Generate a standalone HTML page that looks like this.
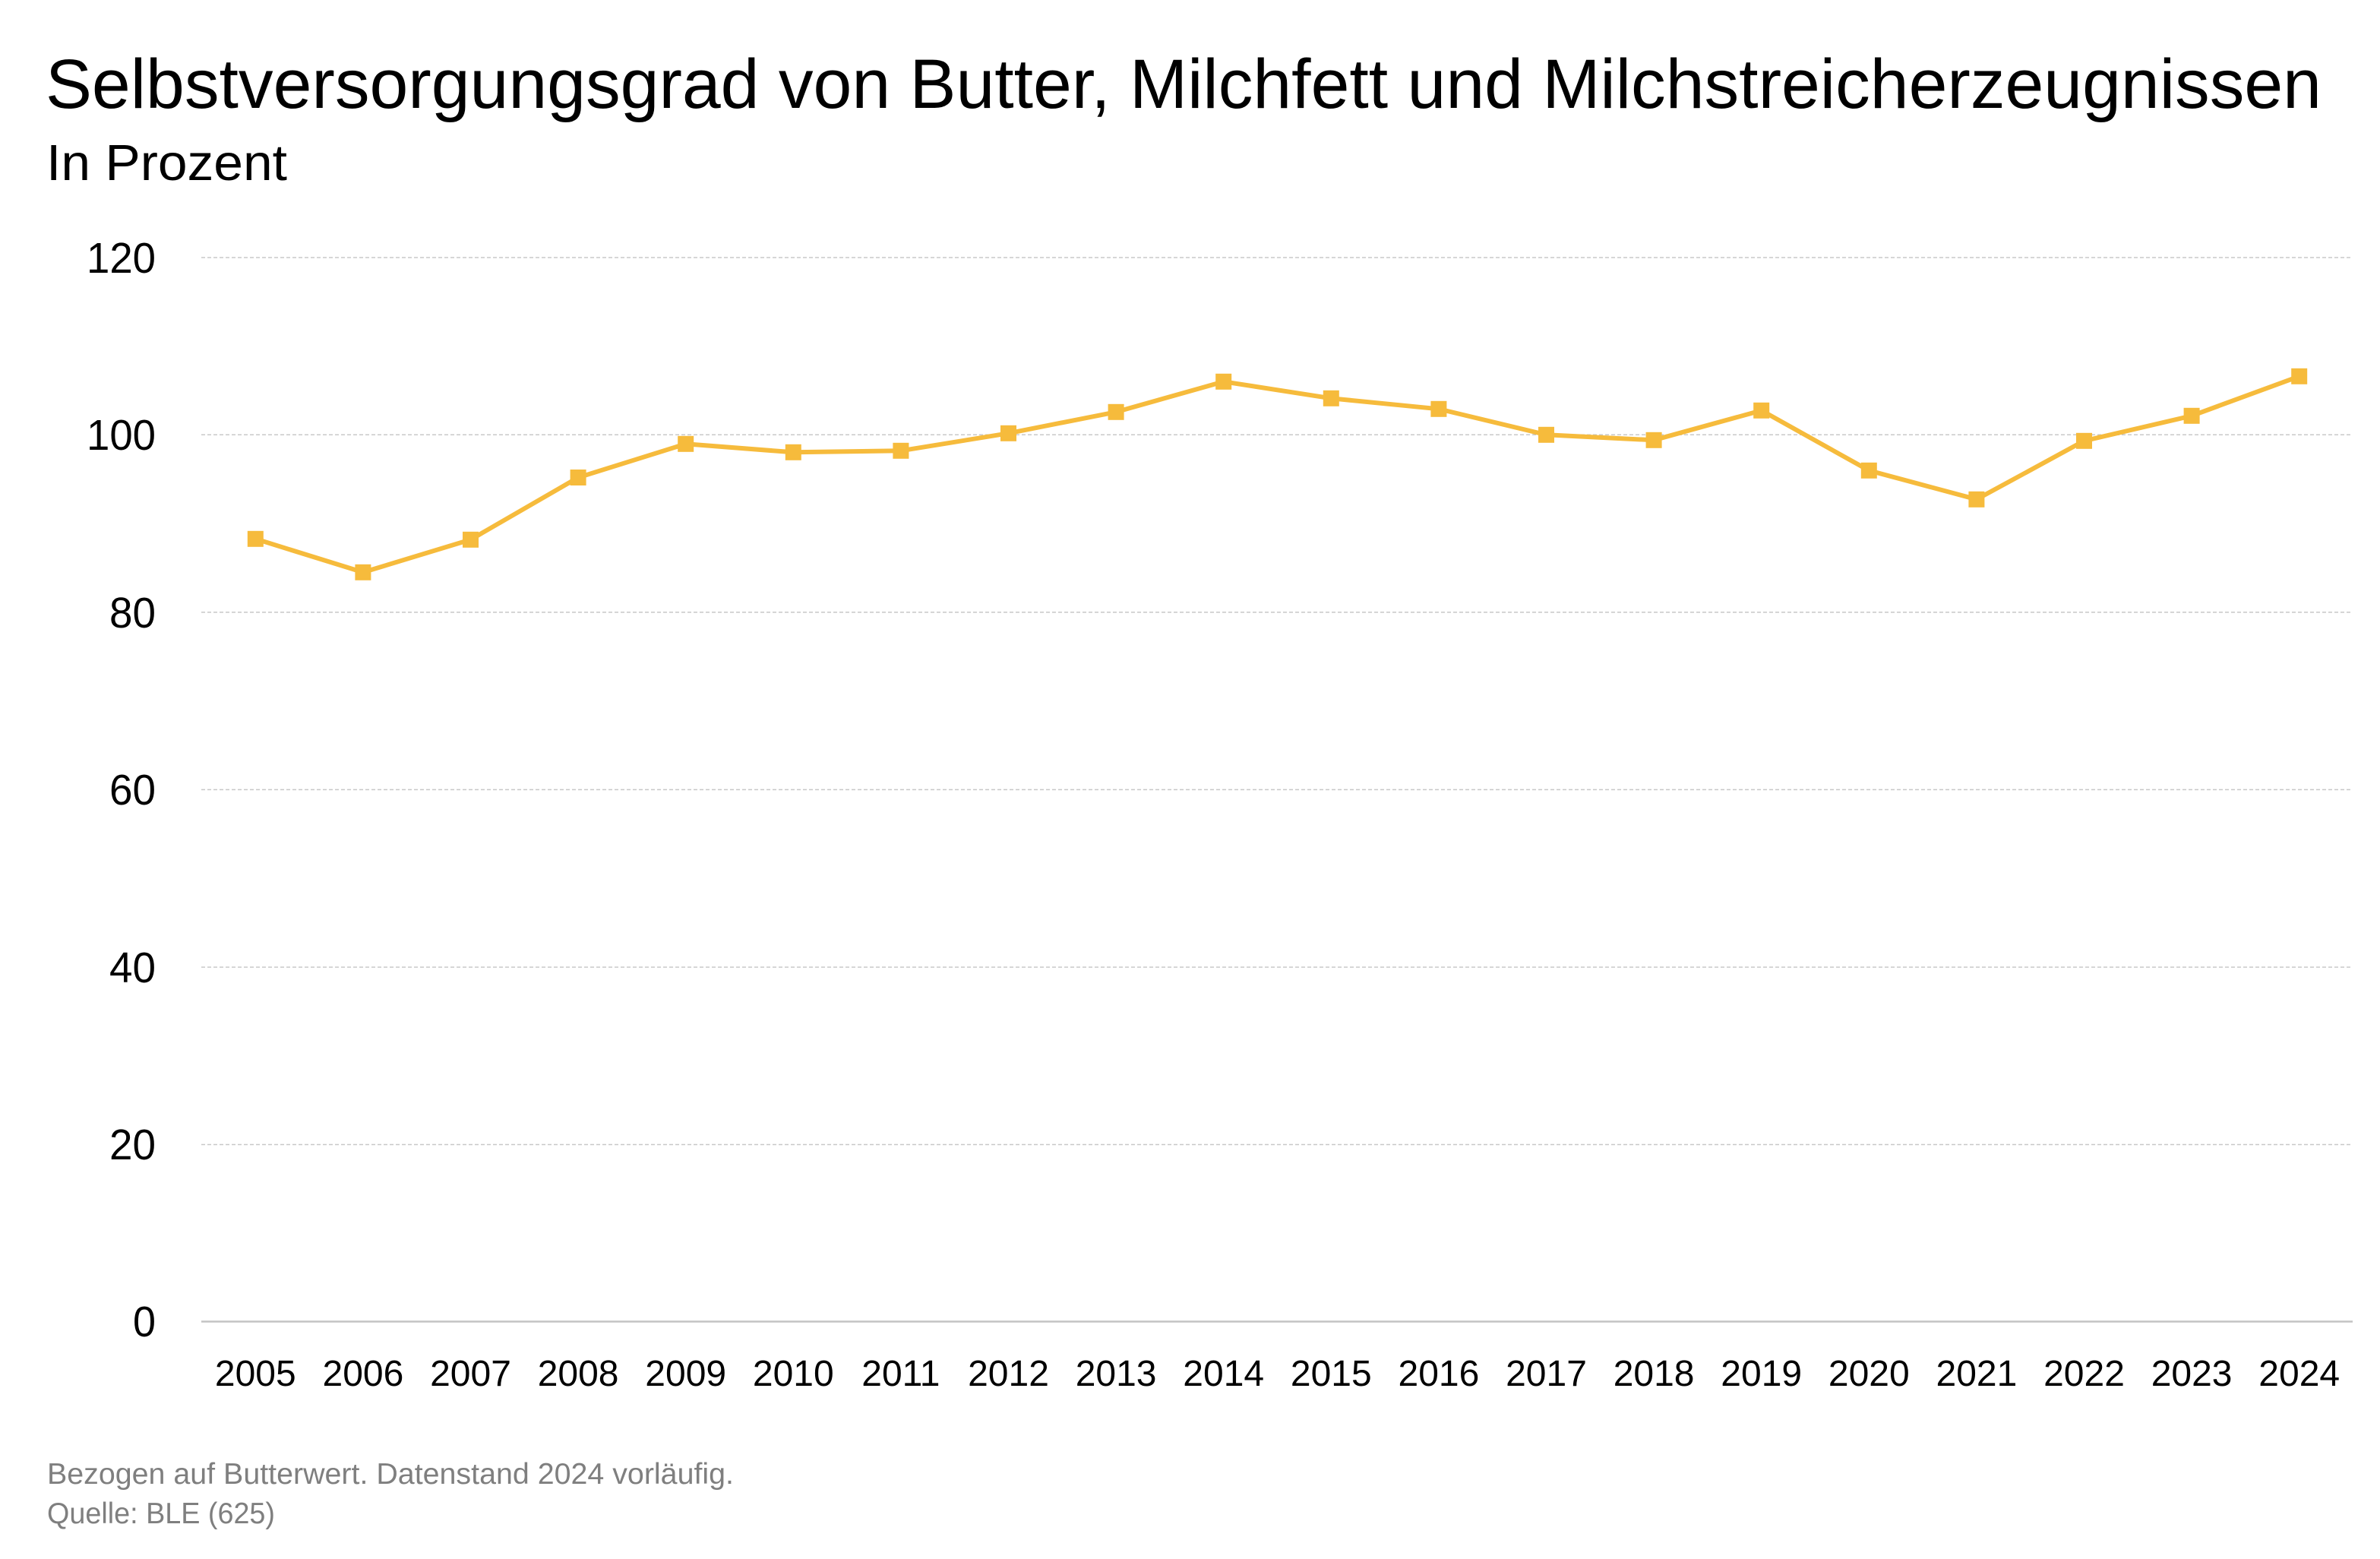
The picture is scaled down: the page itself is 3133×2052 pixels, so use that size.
<!DOCTYPE html>
<html>
<head>
<meta charset="utf-8">
<style>
  html, body { margin: 0; padding: 0; background: #ffffff; }
  body { width: 3133px; height: 2052px; overflow: hidden; }
  svg { display: block; }
  text { font-family: "Liberation Sans", "DejaVu Sans", sans-serif; }
</style>
</head>
<body>
<svg width="3133" height="2052" viewBox="0 0 3133 2052" xmlns="http://www.w3.org/2000/svg">
  <rect x="0" y="0" width="3133" height="2052" fill="#ffffff"/>

  <!-- Title -->
  <text x="60" y="142" font-size="92" fill="#000000" textLength="2996" lengthAdjust="spacingAndGlyphs">Selbstversorgungsgrad von Butter, Milchfett und Milchstreicherzeugnissen</text>
  <text x="61" y="237" font-size="67" fill="#000000" textLength="317" lengthAdjust="spacingAndGlyphs">In Prozent</text>

  <!-- Gridlines -->
  <g stroke="#c8c8c8" stroke-width="1.5" stroke-dasharray="5 3" fill="none">
    <line x1="265" y1="339" x2="3097" y2="339"/>
    <line x1="265" y1="572.3" x2="3097" y2="572.3"/>
    <line x1="265" y1="805.9" x2="3097" y2="805.9"/>
    <line x1="265" y1="1039.4" x2="3097" y2="1039.4"/>
    <line x1="265" y1="1273" x2="3097" y2="1273"/>
    <line x1="265" y1="1506.5" x2="3097" y2="1506.5"/>
  </g>
  <line x1="265" y1="1739.5" x2="3097" y2="1739.5" stroke="#c4c4c4" stroke-width="2.5"/>

  <!-- Y labels -->
  <g font-size="57" fill="#000000" text-anchor="end">
    <text x="205" y="359" textLength="91" lengthAdjust="spacingAndGlyphs">120</text>
    <text x="205" y="592" textLength="91" lengthAdjust="spacingAndGlyphs">100</text>
    <text x="205" y="826" textLength="61" lengthAdjust="spacingAndGlyphs">80</text>
    <text x="205" y="1059" textLength="61" lengthAdjust="spacingAndGlyphs">60</text>
    <text x="205" y="1293" textLength="61" lengthAdjust="spacingAndGlyphs">40</text>
    <text x="205" y="1526" textLength="61" lengthAdjust="spacingAndGlyphs">20</text>
    <text x="205" y="1759" textLength="30" lengthAdjust="spacingAndGlyphs">0</text>
  </g>

  <!-- X labels -->
  <g font-size="48" fill="#000000" text-anchor="middle">
    <text x="336.3" y="1824">2005</text>
    <text x="477.9" y="1824">2006</text>
    <text x="619.5" y="1824">2007</text>
    <text x="761.1" y="1824">2008</text>
    <text x="902.7" y="1824">2009</text>
    <text x="1044.3" y="1824">2010</text>
    <text x="1185.9" y="1824">2011</text>
    <text x="1327.5" y="1824">2012</text>
    <text x="1469.1" y="1824">2013</text>
    <text x="1610.7" y="1824">2014</text>
    <text x="1752.3" y="1824">2015</text>
    <text x="1893.9" y="1824">2016</text>
    <text x="2035.5" y="1824">2017</text>
    <text x="2177.1" y="1824">2018</text>
    <text x="2318.7" y="1824">2019</text>
    <text x="2460.3" y="1824">2020</text>
    <text x="2601.9" y="1824">2021</text>
    <text x="2743.5" y="1824">2022</text>
    <text x="2885.1" y="1824">2023</text>
    <text x="3026.7" y="1824">2024</text>
  </g>

  <!-- Series line -->
  <polyline fill="none" stroke="#f6bb3c" stroke-width="6" stroke-linejoin="round"
    points="336.3,709.3 477.9,753.3 619.5,710.3 761.1,628.5 902.7,584.3 1044.3,595.3 1185.9,593.3 1327.5,570.3 1469.1,542.3 1610.7,502.3 1752.3,524.3 1893.9,538.3 2035.5,572.3 2177.1,579.3 2318.7,540.3 2460.3,619.3 2601.9,657.3 2743.5,580.3 2885.1,547.3 3026.7,495.3"/>

  <!-- Markers -->
  <g fill="#f6bb3c">
    <rect x="325.8" y="698.8" width="21" height="21"/>
    <rect x="467.4" y="742.8" width="21" height="21"/>
    <rect x="609" y="699.8" width="21" height="21"/>
    <rect x="750.6" y="618" width="21" height="21"/>
    <rect x="892.2" y="573.8" width="21" height="21"/>
    <rect x="1033.8" y="584.8" width="21" height="21"/>
    <rect x="1175.4" y="582.8" width="21" height="21"/>
    <rect x="1317" y="559.8" width="21" height="21"/>
    <rect x="1458.6" y="531.8" width="21" height="21"/>
    <rect x="1600.2" y="491.8" width="21" height="21"/>
    <rect x="1741.8" y="513.8" width="21" height="21"/>
    <rect x="1883.4" y="527.8" width="21" height="21"/>
    <rect x="2025" y="561.8" width="21" height="21"/>
    <rect x="2166.6" y="568.8" width="21" height="21"/>
    <rect x="2308.2" y="529.8" width="21" height="21"/>
    <rect x="2449.8" y="608.8" width="21" height="21"/>
    <rect x="2591.4" y="646.8" width="21" height="21"/>
    <rect x="2733" y="569.8" width="21" height="21"/>
    <rect x="2874.6" y="536.8" width="21" height="21"/>
    <rect x="3016.2" y="484.8" width="21" height="21"/>
  </g>

  <!-- Footer -->
  <text x="62" y="1953" font-size="39" fill="#7f7f7f" textLength="904" lengthAdjust="spacingAndGlyphs">Bezogen auf Butterwert. Datenstand 2024 vorläufig.</text>
  <text x="62" y="2005" font-size="39" fill="#7f7f7f" textLength="300" lengthAdjust="spacingAndGlyphs">Quelle: BLE (625)</text>
</svg>
</body>
</html>
